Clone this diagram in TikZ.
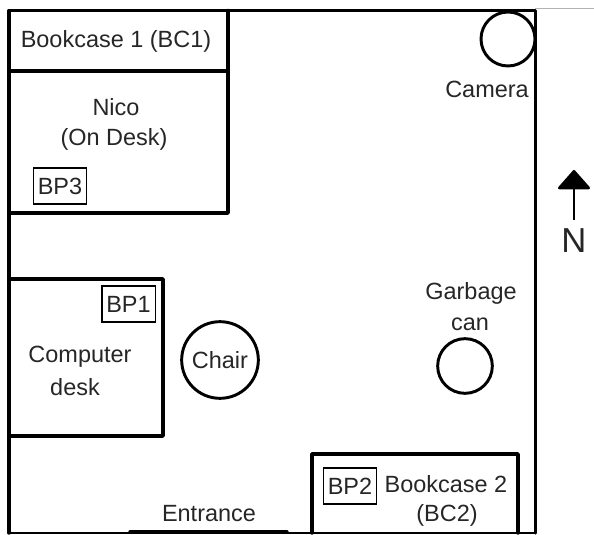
\documentclass[tikz,border=0pt]{standalone}
\usepackage{fontspec}
\setmainfont{Liberation Sans}
\usetikzlibrary{arrows.meta}
\begin{document}
\begin{tikzpicture}[x=0.75pt, y=-0.75pt]
        \tikzstyle{every node}=[inner sep=0pt, font=\fontsize{17.6pt}{20pt}\selectfont, text=black!85]
        \tikzstyle{wall}=[line width=2.6pt, line cap=round, line join=round]
        \tikzstyle{thinwall}=[line width=1.1pt]
        \tikzstyle{bpbox}=[draw, line width=1pt, minimum width=40pt, minimum height=27pt, inner sep=0pt]
        \tikzstyle{round}=[draw, circle, line width=2.2pt, inner sep=0pt]
        \useasboundingbox (0,0) rectangle (594,535);

        \draw [black!30, line width=0.7pt] (535,8) -- (594,8);
        \draw [wall] (9,533) -- (9,10.5) -- (535.5,10.5) -- (535.5,533);
        \draw [thinwall] (9,533) -- (535.5,533);
        \draw [wall] (130,532) -- (287,532);

        \draw [wall] (9,71) -- (228,71);
        \draw [wall] (228,10.5) -- (228,213) -- (9,213);
        \draw [wall] (9,279) -- (163,279) -- (163,436) -- (9,436);
        \draw [wall] (312,533) -- (312,454) -- (518,454) -- (518,533);

        \node (bc1)  at (116,41) {Bookcase 1 (BC1)};
        \node (nico) at (116,107) {Nico};
        \node (ondesk) at (114,139) {(On Desk)};
        \node [bpbox] (bp3) at (60,186) {BP3};

        \node [bpbox] (bp1) at (128.5,304) {BP1};
        \node (computer) at (80,357) {Computer};
        \node (desk) at (75,387) {desk};
        \node [round, minimum size=57.5pt] (chair) at (220,360) {Chair};

        \node [round, minimum size=40.5pt] (camera) at (508,39) {};
        \node (cameralabel) at (487,89) {Camera};
        \node (garbage) at (471,293) {Garbage};
        \node (can) at (470,324) {can};
        \node [round, minimum size=41pt] (gcan) at (465,366) {};

        \node [bpbox] (bp2) at (350,486) {BP2};
        \node (bc2) at (446,484) {Bookcase 2};
        \node (bc2b) at (447,515) {(BC2)};
        \node (entrance) at (209,514) {Entrance};

        \coordinate (tail) at (574,220);
        \coordinate (head) at (574,170);
        \draw [line width=2pt, -{Triangle[length=15pt, width=26pt, round]}] (tail) -- (head);
        \node [font=\fontsize{26pt}{28pt}\selectfont] (north) at (574,241) {N};
    \end{tikzpicture}
\end{document}
